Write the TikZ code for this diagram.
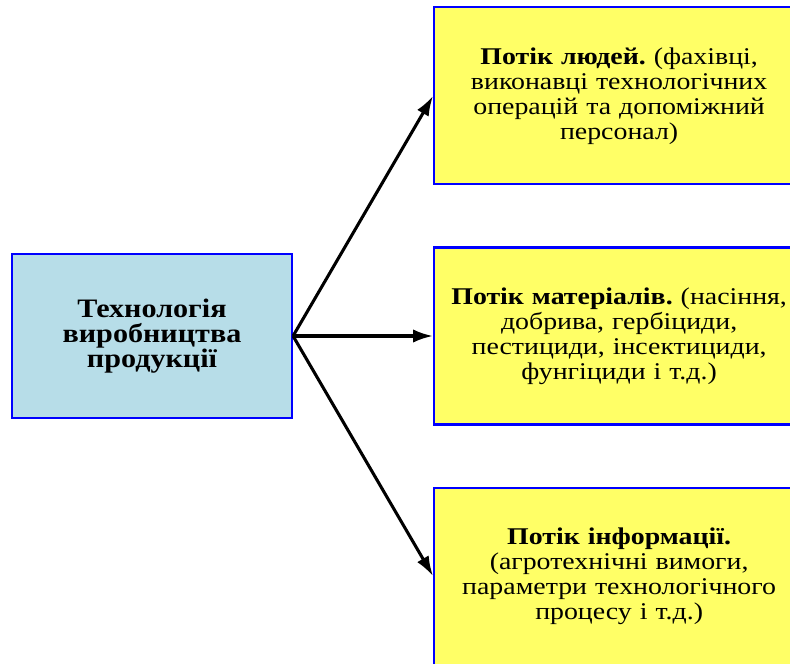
\documentclass[tikz,border=0pt]{standalone}
\usepackage{fontspec}
\setmainfont{Liberation Serif}[FakeStretch=1.16]
\newfontfamily\techfont{Liberation Serif}[FakeStretch=1.13]
\usetikzlibrary{positioning,arrows.meta}
\definecolor{techblue}{RGB}{183,221,232}
\definecolor{flowyellow}{RGB}{255,255,102}
\tikzset{
	techbox/.style={draw=blue, line width=1.6pt, fill=techblue,
		minimum width=210pt, minimum height=123pt,
		text width=180pt, align=center,
		font=\techfont\fontsize{20}{18.5}\selectfont\bfseries},
	flowbox/.style={draw=blue, line width=1.6pt, fill=flowyellow,
		minimum width=277.5pt, minimum height=132.75pt,
		text width=268pt, align=center,
		font=\fontsize{18}{18.75}\selectfont},
	flowarrow/.style={-{Latex[length=15pt,width=10pt]}, line width=2.3pt}
}
\frenchspacing
\begin{document}
\begin{tikzpicture}

\useasboundingbox (-114pt,252pt) rectangle (478.5pt,-246pt);

% Technology
\node [techbox] (tech) {
Технологія\\виробництва\\продукції
};

% Flow of materials
\node [flowbox,
	right = 105pt of tech
] (matflow) {
\textbf{Потік матеріалів.} (насіння,\\добрива, гербіциди,\\пестициди, інсектициди,\\фунгіциди і т.д.)
};
% Flow of people
\node [flowbox,
	above = 45.75pt of matflow
] (peopleflow) {
\textbf{Потік людей.} (фахівці,\\виконавці технологічних\\операцій та допоміжний\\персонал)
};
% Flow of information
\node [flowbox,
	below = 45.75pt of matflow
] (infoflow) {
\textbf{Потік інформації.}\\(агротехнічні вимоги,\\параметри технологічного\\процесу і т.д.)
};

% Arrows
\draw[flowarrow] (tech.east) -- (peopleflow.west);
\draw[flowarrow] (tech.east) -- (matflow.west);
\draw[flowarrow] (tech.east) -- (infoflow.west);

\end{tikzpicture}
\end{document}
